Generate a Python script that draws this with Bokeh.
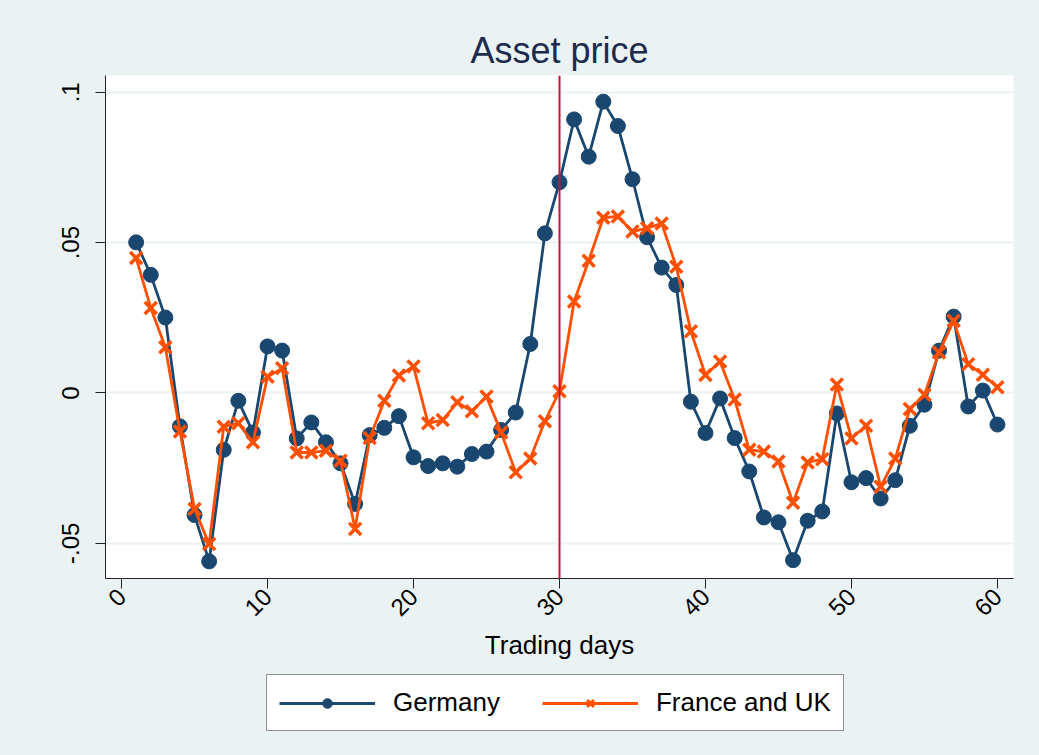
from bokeh.plotting import figure
from bokeh.layouts import column
from bokeh.models import Range1d, FixedTicker, Span, Legend, LegendItem, ColumnDataSource
from bokeh.embed import file_html
from bokeh.resources import INLINE
import math

days = list(range(1, 61))
germany = [0.0501, 0.0393, 0.0251, -0.0111, -0.0406, -0.0560, -0.0189, -0.0026, -0.0131, 0.0155,
           0.0141, -0.0151, -0.0098, -0.0164, -0.0234, -0.0369, -0.0140, -0.0116, -0.0077, -0.0214,
           -0.0243, -0.0234, -0.0245, -0.0203, -0.0195, -0.0123, -0.0065, 0.0163, 0.0531, 0.0701,
           0.0910, 0.0786, 0.0969, 0.0888, 0.0711, 0.0518, 0.0417, 0.0359, -0.0029, -0.0133,
           -0.0018, -0.0150, -0.0261, -0.0414, -0.0430, -0.0556, -0.0425, -0.0394, -0.0068, -0.0297,
           -0.0283, -0.0351, -0.0290, -0.0109, -0.0039, 0.0141, 0.0254, -0.0045, 0.0008, -0.0105]
france_uk = [0.0449, 0.0283, 0.0152, -0.0128, -0.0386, -0.0502, -0.0112, -0.0101, -0.0164, 0.0054,
             0.0082, -0.0198, -0.0198, -0.0192, -0.0225, -0.0452, -0.0150, -0.0026, 0.0058, 0.0088,
             -0.0101, -0.0090, -0.0031, -0.0061, -0.0012, -0.0131, -0.0264, -0.0218, -0.0094, 0.0006,
             0.0304, 0.0440, 0.0583, 0.0587, 0.0537, 0.0548, 0.0564, 0.0420, 0.0205, 0.0060,
             0.0105, -0.0022, -0.0189, -0.0195, -0.0228, -0.0365, -0.0231, -0.0220, 0.0028, -0.0151,
             -0.0109, -0.0312, -0.0218, -0.0053, -0.0006, 0.0135, 0.0240, 0.0096, 0.0061, 0.0019]
event_day = 30
x_ticks = [0, 10, 20, 30, 40, 50, 60]
y_ticks = [-0.05, 0, 0.05, 0.1]
y_tick_labels = ["-.05", "0", ".05", ".1"]
series_names = ["Germany", "France and UK"]

BG = "#EAF2F3"
BLUE = "#1A476F"
ORANGE = "#FF4F00"
FONT = "Liberation Sans"

src = ColumnDataSource(dict(day=days, ger=germany, fra=france_uk))

p = figure(frame_width=908, frame_height=503, output_backend="svg", toolbar_location=None,
           x_range=Range1d(-1.1, 61.1), y_range=Range1d(-0.0617, 0.1056),
           min_border_left=105, min_border_right=26, min_border_top=75, min_border_bottom=92)
p.background_fill_color = "white"
p.border_fill_color = BG
p.outline_line_color = None

p.title.text = "Asset price"
p.title.align = "center"
p.title.text_font = FONT
p.title.text_font_size = "36px"
p.title.text_font_style = "normal"
p.title.text_color = "#1C2B4E"

# axes
for ax in [p.xaxis[0], p.yaxis[0]]:
    ax.axis_line_color = "#222222"
    ax.major_tick_line_color = "#222222"
    ax.major_tick_out = 10
    ax.major_tick_in = 0
    ax.minor_tick_line_color = None
    ax.major_label_text_font = FONT
    ax.major_label_text_font_size = "24px"
    ax.major_label_text_color = "black"

p.xaxis.ticker = FixedTicker(ticks=x_ticks)
p.xaxis.major_label_orientation = math.pi / 4
p.xaxis.axis_label = "Trading days"
p.xaxis.axis_label_text_font = FONT
p.xaxis.axis_label_text_font_size = "26px"
p.xaxis.axis_label_text_font_style = "normal"
p.xaxis.axis_label_text_color = "black"
p.xaxis.axis_label_standoff = 4
p.xaxis.major_label_standoff = 4

p.yaxis.ticker = FixedTicker(ticks=y_ticks)
p.yaxis.major_label_overrides = {t: l for t, l in zip(y_ticks, y_tick_labels)}
p.yaxis.major_label_orientation = "vertical"
p.yaxis.major_label_standoff = 16

p.xgrid.grid_line_color = None
p.ygrid.grid_line_color = BG
p.ygrid.grid_line_width = 2

# data
line_kw = dict(line_width=2.8)
g_line = p.line("day", "ger", source=src, line_color=BLUE, **line_kw)
g_mark = p.scatter("day", "ger", source=src, marker="circle", size=15,
                   fill_color=BLUE, line_color=BLUE)
f_line = p.line("day", "fra", source=src, line_color=ORANGE, **line_kw)
f_mark = p.scatter("day", "fra", source=src, marker="x", size=17,
                   line_color=ORANGE, line_width=3.5)

p.add_layout(Span(location=event_day, dimension="height", line_color="#C8143C", line_width=2))

# legend strip (separate figure below the chart; its own view range shows no data)
lg = figure(width=1039, height=85, output_backend="svg", toolbar_location=None,
            x_axis_type=None, y_axis_type=None,
            x_range=Range1d(1000, 1001), y_range=Range1d(1000, 1001),
            min_border_left=0, min_border_right=0, min_border_top=0, min_border_bottom=0)
lg.background_fill_color = BG
lg.border_fill_color = BG
lg.outline_line_color = None
lg.xgrid.grid_line_color = None
lg.ygrid.grid_line_color = None
lg_gl = lg.line("day", "ger", source=src, line_color=BLUE, **line_kw)
lg_gm = lg.scatter("day", "ger", source=src, marker="circle", size=12,
                   fill_color=BLUE, line_color=BLUE)
lg_fl = lg.line("day", "fra", source=src, line_color=ORANGE, **line_kw)
lg_fm = lg.scatter("day", "fra", source=src, marker="x", size=14,
                   line_color=ORANGE, line_width=3)

legend = Legend(items=[LegendItem(label=series_names[0], renderers=[lg_gl, lg_gm]),
                       LegendItem(label=series_names[1], renderers=[lg_fl, lg_fm])],
                orientation="horizontal", location=(161, 24))
legend.glyph_width = 96
legend.glyph_height = 24
legend.label_standoff = 18
legend.spacing = 42
legend.padding = 12
legend.margin = 0
legend.label_text_font = FONT
legend.label_text_font_size = "26px"
legend.label_text_color = "black"
legend.border_line_color = "#222222"
legend.border_line_width = 1
legend.background_fill_color = "white"
legend.background_fill_alpha = 1
lg.add_layout(legend, "center")

layout = column(p, lg, spacing=0, styles={"background-color": BG})
open("out.html", "w").write(file_html(layout, INLINE))
